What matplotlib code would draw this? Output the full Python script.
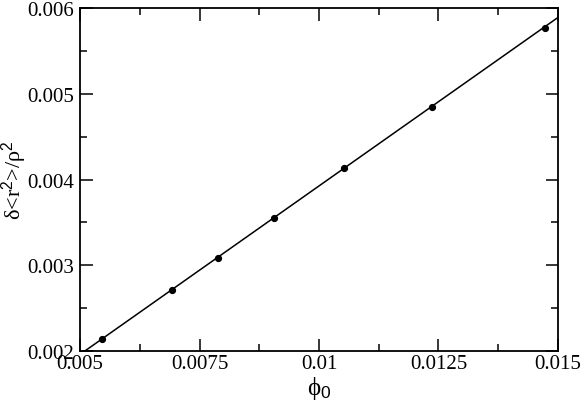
import numpy as np
import matplotlib
matplotlib.use('Agg')
from matplotlib import pyplot as plt
from matplotlib.ticker import MultipleLocator, FormatStrFormatter

plt.rcParams['font.family'] = 'Liberation Serif'
plt.rcParams['mathtext.fontset'] = 'custom'
plt.rcParams['mathtext.rm'] = 'Liberation Serif'
plt.rcParams['mathtext.it'] = 'Liberation Serif'
plt.rcParams['mathtext.sf'] = 'Liberation Sans'

# measured points
phi0 = [0.00547, 0.00693, 0.00789, 0.00906, 0.01052, 0.01236, 0.01472]
dr2 = [0.002137, 0.002715, 0.003088, 0.003551, 0.004134, 0.004849, 0.00577]

# fitted line ends
fit_x = [0.005, 0.015]
fit_y = [0.00196, 0.00589]

fig = plt.figure(figsize=(5.81, 4.06), dpi=100)
ax = fig.add_axes([0.1377, 0.133, 0.8227, 0.8448])

ax.plot(fit_x, fit_y, color='black', lw=1.1)
ax.plot(phi0, dr2, 'o', color='black', ms=4.2)

ax.set_xlim(0.005, 0.015)
ax.set_ylim(0.002, 0.006)
ax.xaxis.set_major_locator(MultipleLocator(0.0025))
ax.xaxis.set_minor_locator(MultipleLocator(0.00125))
ax.yaxis.set_major_locator(MultipleLocator(0.001))
ax.yaxis.set_minor_locator(MultipleLocator(0.0005))
ax.xaxis.set_major_formatter(FormatStrFormatter('%g'))
ax.yaxis.set_major_formatter(FormatStrFormatter('%.3f'))

ax.tick_params(which='both', direction='in', top=True, right=True, width=1.1, labelsize=15)
ax.tick_params(which='major', length=9)
ax.tick_params(which='minor', length=5)
ax.tick_params(axis='x', which='major', pad=2)
ax.tick_params(axis='y', which='major', pad=4)
for s in ax.spines.values():
    s.set_linewidth(1.3)

ax.set_xlabel(r'$\mathrm{\phi}_\mathsf{0}$', fontsize=18, labelpad=1)
ax.set_ylabel(r'$\mathrm{\delta}$<r$^\mathsf{2}$>/$\mathrm{\rho}^\mathsf{2}$', fontsize=16)
ax.yaxis.set_label_coords(-0.106, 0.5)

plt.savefig('out.png', dpi=100)
